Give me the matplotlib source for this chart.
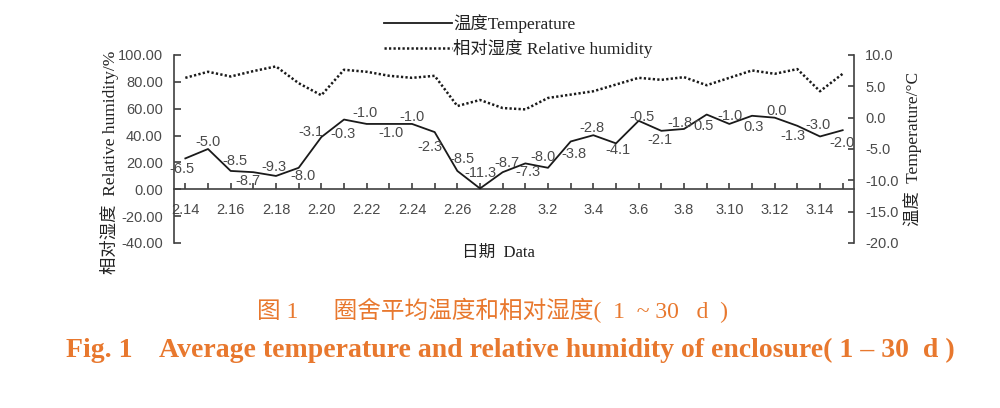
import matplotlib
matplotlib.use("Agg")
import matplotlib.pyplot as plt
from matplotlib import font_manager

# ---------------- data ----------------
dates = ["2.14", "2.15", "2.16", "2.17", "2.18", "2.19", "2.20", "2.21", "2.22", "2.23",
         "2.24", "2.25", "2.26", "2.27", "2.28", "3.1", "3.2", "3.3", "3.4", "3.5",
         "3.6", "3.7", "3.8", "3.9", "3.10", "3.11", "3.12", "3.13", "3.14", "3.15"]
temperature = [-6.5, -5.0, -8.5, -8.7, -9.3, -8.0, -3.1, -0.3, -1.0, -1.0,
               -1.0, -2.3, -8.5, -11.3, -8.7, -7.3, -8.0, -3.8, -2.8, -4.1,
               -0.5, -2.1, -1.8, 0.5, -1.0, 0.3, 0.0, -1.3, -3.0, -2.0]
humidity = [83.0, 87.5, 84.0, 88.0, 91.5, 79.0, 70.0, 89.0, 87.5, 84.5,
            83.0, 84.5, 62.0, 66.5, 60.5, 59.5, 68.0, 70.5, 73.0, 78.0,
            83.0, 81.5, 83.5, 77.5, 83.0, 88.5, 86.0, 89.5, 73.0, 86.0]
hum_ticks = [-40, -20, 0, 20, 40, 60, 80, 100]
temp_ticks = [-20, -15, -10, -5, 0, 5, 10]

# label offsets (pixels: right, down) for temperature data labels
lab_dx = [-3, 0, 4, -5, -2, 4, -10, -1, -1.5, 2, 0, -5, 5, 0, 4, 3, -5, 3, -1, 2,
          3, -1, -4, -3, 1, 2, 1.5, -4, -2, -1]
lab_dy = [10.5, -6.7, -10, 8.5, -8.6, 8, -5, 14.4, -10.6, 9, -6.6, 15, -12, -15, -9, 9,
          -11, 13, -7, 7, -4, 9, -6, 11, -8, 11, -6.3, 10, -11, 13]

# ---------------- fonts ----------------
names = {f.name for f in font_manager.fontManager.ttflist}
tick_font = "Liberation Sans Narrow" if "Liberation Sans Narrow" in names else "Liberation Sans"
mix_font = ["Liberation Serif", "Noto Sans CJK SC"]
GRAY = "#4a4a4a"
ORANGE = "#E8782E"

W, H = 1000, 408
fig = plt.figure(figsize=(W / 100, H / 100), dpi=100)
L, R, T, B = 174, 854, 55, 243
ax = fig.add_axes([L / W, 1 - B / H, (R - L) / W, (B - T) / H])
ax2 = ax.twinx()

x = list(range(len(dates)))

# humidity (left axis), dotted
lh, = ax.plot(x, humidity, color="#1a1a1a", lw=1.8, linestyle=(0, (0.9, 0.9)),
              dash_capstyle="butt", label="相对湿度 Relative humidity")
# temperature (right axis), solid
lt, = ax2.plot(x, temperature, color="#1a1a1a", lw=1.3, label="温度Temperature")

for i, (xi, v) in enumerate(zip(x, temperature)):
    ax2.annotate(f"{v:.1f}", (xi, v), xytext=(lab_dx[i] * 0.72, -lab_dy[i] * 0.72),
                 textcoords="offset points", ha="center", va="center",
                 fontsize=10.5, color=GRAY, family=tick_font)

ax.set_xlim(-0.5, len(dates) - 0.5)
ax.set_ylim(-40, 100)
ax2.set_ylim(-20, 10)

ax.set_yticks(hum_ticks)
ax.set_yticklabels([f"{t:.2f}" for t in hum_ticks])
ax2.set_yticks(temp_ticks)
ax2.set_yticklabels([f"{t:.1f}" for t in temp_ticks])
ax.set_xticks(x)
ax.set_xticklabels([d if i % 2 == 0 else "" for i, d in enumerate(dates)])

for a in (ax, ax2):
    a.spines["top"].set_visible(False)
    for s in a.spines.values():
        s.set_color("#404040")
        s.set_linewidth(1.2)
ax.spines["right"].set_visible(False)
ax2.spines["left"].set_visible(False)
ax2.spines["bottom"].set_visible(False)
ax.spines["bottom"].set_position(("data", 0))

ax.tick_params(axis="y", direction="in", length=5, width=1.2, color="#404040",
               pad=8, labelsize=10.5, labelcolor=GRAY)
ax2.tick_params(axis="y", direction="in", length=4, width=1.2, color="#404040",
                pad=8, labelsize=10.5, labelcolor=GRAY)
ax.tick_params(axis="x", direction="in", length=4, width=1.2, color="#404040",
               pad=10, labelsize=10.5, labelcolor=GRAY)
for lab in ax.get_yticklabels() + ax2.get_yticklabels() + ax.get_xticklabels():
    lab.set_family(tick_font)

ax.set_xlabel("日期  Data", family=mix_font, fontsize=12, color="#222222")
ax.xaxis.set_label_coords((498 - L) / (R - L), (B - 253) / (B - T))
ax.xaxis.label.set_va("center")

ax.set_ylabel("相对湿度  Relative humidity/%", family=mix_font, fontsize=12.5, color="#222222")
ax.yaxis.set_label_coords((110 - L) / (R - L), (B - 162) / (B - T))
ax.yaxis.label.set_va("center")

ax2.set_ylabel("温度  Temperature/°C", family=mix_font, fontsize=12.5, color="#222222",
               rotation=90)
ax2.yaxis.set_label_coords((913 - L) / (R - L), (B - 149) / (B - T))
ax2.yaxis.label.set_va("center")

leg = fig.legend(handles=[lt, lh], loc="upper left", bbox_to_anchor=(384 / W, 1 - 14 / H),
                 frameon=False, borderpad=0, borderaxespad=0, handlelength=3.9,
                 handletextpad=0.1, labelspacing=0.35,
                 prop={"family": mix_font, "size": 12.5})
for t in leg.get_texts():
    t.set_color("#222222")

fig.text(257 / W, 1 - 310 / H, "图 1      圈舍平均温度和相对湿度(  1  ~ 30   d  )",
         ha="left", va="center", family=mix_font, fontsize=17, color=ORANGE)
fig.text(0.51, 1 - 350 / H,
         "Fig. 1    Average temperature and relative humidity of enclosure( 1 – 30  d )",
         ha="center", va="center", family=mix_font, fontsize=20, fontweight="bold",
         color=ORANGE)

fig.savefig("out.png", dpi=100)
